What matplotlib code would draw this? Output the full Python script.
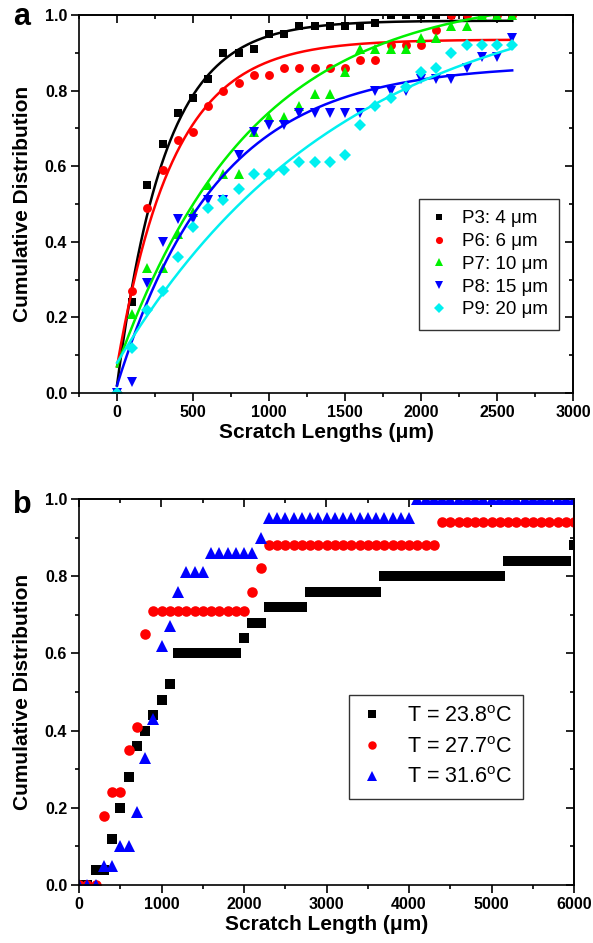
import numpy as np
import matplotlib
matplotlib.use("Agg")
import matplotlib.pyplot as plt
from matplotlib.ticker import MultipleLocator, NullFormatter, FormatStrFormatter

plt.rcParams['font.family'] = ['Liberation Sans', 'DejaVu Sans']
plt.rcParams['mathtext.fontset'] = 'custom'
plt.rcParams['mathtext.rm'] = 'Liberation Sans'

# ---------------- Panel a data ----------------
a_x = [0, 100, 200, 300, 400, 500, 600, 700, 800, 900, 1000, 1100, 1200, 1300,
       1400, 1500, 1600, 1700, 1800, 1900, 2000, 2100, 2200, 2300, 2400, 2500, 2600]
a_labels = ["P3: 4 \u03bcm", "P6: 6 \u03bcm", "P7: 10 \u03bcm", "P8: 15 \u03bcm", "P9: 20 \u03bcm"]
p3 = [0.0, 0.24, 0.55, 0.66, 0.74, 0.78, 0.83, 0.90, 0.90, 0.91, 0.95, 0.95, 0.97, 0.97,
      0.97, 0.97, 0.97, 0.98, 1.0, 1.0, 1.0, 1.0, 1.0, 1.0, 1.0, 1.0, 1.0]
p6 = [0.0, 0.27, 0.49, 0.59, 0.67, 0.69, 0.76, 0.80, 0.82, 0.84, 0.84, 0.86, 0.86, 0.86,
      0.86, 0.86, 0.88, 0.88, 0.92, 0.92, 0.92, 0.96, 1.0, 1.0, 1.0, 1.0, 1.0]
p7 = [0.0, 0.21, 0.33, 0.33, 0.42, 0.48, 0.55, 0.58, 0.58, 0.69, 0.73, 0.73, 0.76, 0.79,
      0.79, 0.85, 0.91, 0.91, 0.91, 0.91, 0.94, 0.94, 0.97, 0.97, 1.0, 1.0, 1.0]
p8 = [0.0, 0.03, 0.29, 0.40, 0.46, 0.46, 0.51, 0.51, 0.63, 0.69, 0.71, 0.71, 0.74, 0.74,
      0.74, 0.74, 0.74, 0.80, 0.80, 0.80, 0.83, 0.83, 0.83, 0.86, 0.89, 0.89, 0.94]
p9 = [0.0, 0.12, 0.22, 0.27, 0.36, 0.44, 0.49, 0.51, 0.54, 0.58, 0.58, 0.59, 0.61, 0.61,
      0.61, 0.63, 0.71, 0.76, 0.78, 0.81, 0.85, 0.86, 0.90, 0.92, 0.92, 0.92, 0.92]
a_series = [p3, p6, p7, p8, p9]
a_colors = ['#000000', '#ff0000', '#00f000', '#0000ff', '#00f0f0']
a_markers = ['s', 'o', '^', 'v', 'D']
a_msizes = [5.8, 6.4, 7.0, 7.0, 5.8]
# exponential fit parameters (plateau, start, decay length)
fit_A = [0.985, 0.935, 1.06, 0.87, 1.09]
fit_y0 = [0.02, 0.07, 0.07, 0.02, 0.08]
fit_tau = [315, 370, 880, 660, 1500]
fit_xmax = 2600

# ---------------- Panel b data ----------------
b_x = list(range(0, 6001, 100))
b_labels = ["T = 23.8$^\\mathregular{o}$C", "T = 27.7$^\\mathregular{o}$C", "T = 31.6$^\\mathregular{o}$C"]
t238 = [0.0, 0.0, 0.04, 0.04, 0.12, 0.20, 0.28, 0.36, 0.40, 0.44, 0.48, 0.52,
        0.60, 0.60, 0.60, 0.60, 0.60, 0.60, 0.60, 0.60,
        0.64, 0.68, 0.68,
        0.72, 0.72, 0.72, 0.72, 0.72,
        0.76, 0.76, 0.76, 0.76, 0.76, 0.76, 0.76, 0.76, 0.76,
        0.80, 0.80, 0.80, 0.80, 0.80, 0.80, 0.80, 0.80, 0.80, 0.80, 0.80, 0.80, 0.80, 0.80, 0.80,
        0.84, 0.84, 0.84, 0.84, 0.84, 0.84, 0.84, 0.84,
        0.88]
t277 = [0.0, 0.0, 0.0, 0.18, 0.24, 0.24, 0.35, 0.41, 0.65,
        0.71, 0.71, 0.71, 0.71, 0.71, 0.71, 0.71, 0.71, 0.71, 0.71, 0.71, 0.71,
        0.76, 0.82,
        0.88, 0.88, 0.88, 0.88, 0.88, 0.88, 0.88, 0.88, 0.88, 0.88, 0.88, 0.88, 0.88, 0.88,
        0.88, 0.88, 0.88, 0.88, 0.88, 0.88, 0.88,
        0.94, 0.94, 0.94, 0.94, 0.94, 0.94, 0.94, 0.94, 0.94, 0.94, 0.94, 0.94, 0.94, 0.94,
        0.94, 0.94, 0.94]
t316 = [0.0, 0.0, 0.0, 0.05, 0.05, 0.10, 0.10, 0.19, 0.33, 0.43, 0.62, 0.67, 0.76,
        0.81, 0.81, 0.81,
        0.86, 0.86, 0.86, 0.86, 0.86, 0.86,
        0.90,
        0.95, 0.95, 0.95, 0.95, 0.95, 0.95, 0.95, 0.95, 0.95, 0.95, 0.95, 0.95, 0.95, 0.95,
        0.95, 0.95, 0.95, 0.95,
        1.0, 1.0, 1.0, 1.0, 1.0, 1.0, 1.0, 1.0, 1.0, 1.0, 1.0, 1.0, 1.0, 1.0, 1.0, 1.0,
        1.0, 1.0, 1.0, 1.0]
b_series = [t238, t277, t316]
b_colors = ['#000000', '#ff0000', '#0000ff']
b_markers = ['s', 'o', '^']
b_msizes = [6.6, 7.6, 8.6]

TICK_FS = 11.5
LABEL_FS = 15


def style_axes(ax, xmaj, xmin, ymaj, ymin):
    for s in ax.spines.values():
        s.set_linewidth(1.2)
    ax.xaxis.set_major_locator(MultipleLocator(xmaj))
    ax.xaxis.set_minor_locator(MultipleLocator(xmin))
    ax.yaxis.set_major_locator(MultipleLocator(ymaj))
    ax.yaxis.set_minor_locator(MultipleLocator(ymin))
    ax.yaxis.set_major_formatter(FormatStrFormatter('%.1f'))
    ax.tick_params(which='both', direction='out', top=False, right=False, width=1.2)
    ax.tick_params(which='major', length=5.5, pad=3, labelsize=TICK_FS)
    ax.tick_params(which='minor', length=3)
    for lab in ax.get_xticklabels() + ax.get_yticklabels():
        lab.set_fontweight('bold')
    sx = ax.secondary_xaxis('top')
    sx.xaxis.set_major_locator(MultipleLocator(xmaj))
    sx.xaxis.set_minor_locator(MultipleLocator(xmin))
    sx.xaxis.set_major_formatter(NullFormatter())
    sx.tick_params(which='both', direction='in', width=1.2)
    sx.tick_params(which='major', length=5.5)
    sx.tick_params(which='minor', length=3)
    sx.spines['top'].set_linewidth(1.2)
    sy = ax.secondary_yaxis('right')
    sy.yaxis.set_major_locator(MultipleLocator(ymaj))
    sy.yaxis.set_minor_locator(MultipleLocator(ymin))
    sy.yaxis.set_major_formatter(NullFormatter())
    sy.tick_params(which='both', direction='in', width=1.2)
    sy.tick_params(which='major', length=5.5)
    sy.tick_params(which='minor', length=3)
    sy.spines['right'].set_linewidth(1.2)


fig = plt.figure(figsize=(5.93, 9.43), dpi=100)

# ---------------- Panel a ----------------
axa = fig.add_axes([79 / 593, 1 - 393 / 943, 494 / 593, 378 / 943])
xfit = np.linspace(0, fit_xmax, 400)
handles = []
for ys, c, m, ms, lab, A, y0, tau in zip(a_series, a_colors, a_markers, a_msizes,
                                           a_labels, fit_A, fit_y0, fit_tau):
    h, = axa.plot(a_x, ys, linestyle='none', marker=m, ms=ms, color=c, mec=c, mew=0, label=lab)
    axa.plot(xfit, A - (A - y0) * np.exp(-xfit / tau), color=c, lw=1.8)
    handles.append(h)
axa.set_xlim(-250, 3000)
axa.set_ylim(0, 1.0)
style_axes(axa, 500, 250, 0.2, 0.1)
axa.set_xlabel("Scratch Lengths (\u03bcm)", fontsize=LABEL_FS, fontweight='bold', labelpad=2)
axa.set_ylabel("Cumulative Distribution", fontsize=LABEL_FS, fontweight='bold', labelpad=9)
lega = axa.legend(handles=handles, loc='upper right', bbox_to_anchor=(0.972, 0.513),
                  fontsize=13.5, frameon=True, fancybox=False, framealpha=1,
                  edgecolor='#333333', handlelength=1.0, handletextpad=0.7,
                  labelspacing=0.3, borderpad=0.6, borderaxespad=0, markerscale=0.8)
lega.get_frame().set_linewidth(1.0)

# ---------------- Panel b ----------------
axb = fig.add_axes([79 / 593, 58 / 943, 495 / 593, 386 / 943])
hb = []
for ys, c, m, ms, lab in zip(b_series, b_colors, b_markers, b_msizes, b_labels):
    h, = axb.plot(b_x, ys, linestyle='none', marker=m, ms=ms, color=c, mec=c, mew=0, label=lab)
    hb.append(h)
axb.set_xlim(0, 6000)
axb.set_ylim(0, 1.0)
style_axes(axb, 1000, 500, 0.2, 0.1)
axb.set_xlabel("Scratch Length (\u03bcm)", fontsize=LABEL_FS, fontweight='bold', labelpad=2)
axb.set_ylabel("Cumulative Distribution", fontsize=LABEL_FS, fontweight='bold', labelpad=9)
legb = axb.legend(handles=hb, loc='upper right', bbox_to_anchor=(0.897, 0.492),
                  fontsize=15.5, frameon=True, fancybox=False, framealpha=1,
                  edgecolor='#333333', handlelength=1.2, handletextpad=1.0,
                  labelspacing=0.45, borderpad=0.5, borderaxespad=0, markerscale=0.8)
legb.get_frame().set_linewidth(1.0)

fig.text(13 / 593, 1 - 25 / 943, 'a', fontsize=22, fontweight='bold', ha='left', va='baseline')
fig.text(13 / 593, 1 - 513 / 943, 'b', fontsize=22, fontweight='bold', ha='left', va='baseline')

fig.savefig('out.png', dpi=100)
